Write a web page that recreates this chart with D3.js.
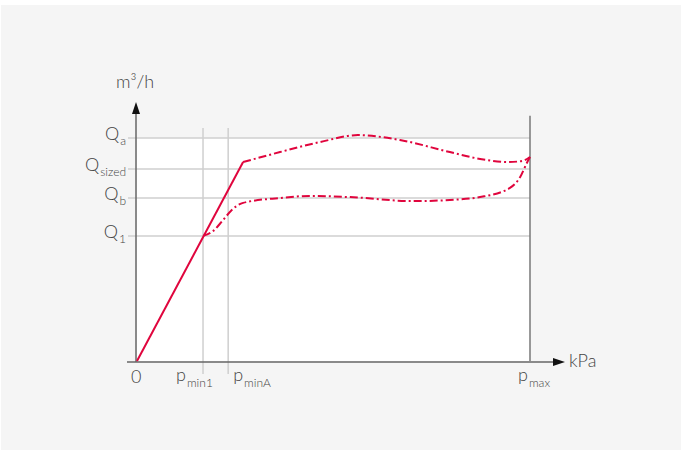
<!DOCTYPE html>
<html>
<head>
<meta charset="utf-8">
<script src="https://cdnjs.cloudflare.com/ajax/libs/d3/7.8.5/d3.min.js"></script>
<style>
  html, body { margin: 0; padding: 0; background: #fff; }
  svg { display: block; }
</style>
</head>
<body>
<div id="chart"></div>
<script>
// pressure (kPa, schematic 0..100) and flow (m3/h, schematic 0..100)
const qTickMain = ['Q', 'Q', 'Q', 'Q'];
const qTickSubs = ['a', 'sized', 'b', '1'];
const qTickValues = [100, 86.1, 73.1, 56.1];

const pTickMain = ['p', 'p', 'p'];
const pTickSubs = ['min1', 'minA', 'max'];
const pTickValues = [16.8, 23.2, 100];

// solid rise from origin to the sized point
const riseP = [0, 27.0];
const riseQ = [0, 89.2];

// upper curve (Qa)
const upperP = [27.0, 36.4, 46.6, 56.2, 66.9, 79.6, 87.3, 94.4, 98.0, 100];
const upperQ = [89.2, 93.7, 98.2, 101.3, 99.1, 93.7, 90.6, 89.2, 89.7, 91.5];

// lower curve (Qb)
const lowerP = [16.8, 19.3, 21.9, 24.0, 27.0, 36.4, 44.0, 54.2, 70.2, 79.6, 87.3, 94.9, 97.5, 99.2, 100];
const lowerQ = [56.1, 58.2, 63.2, 67.5, 70.9, 73.1, 74.0, 73.5, 71.7, 72.2, 73.5, 77.6, 82.5, 88.8, 91.5];

const W = 681, H = 451;
const red = '#e0053d';
const textColor = '#444';
const font = "Lato, 'Open Sans', sans-serif";

const svg = d3.select('#chart').append('svg')
  .attr('width', W)
  .attr('height', H);

// grey panel
svg.append('rect')
  .attr('x', 1).attr('y', 5)
  .attr('width', W - 1).attr('height', 445)
  .attr('fill', '#f5f5f5');

const x = d3.scaleLinear().domain([0, 100]).range([137, 530]);
const y = d3.scaleLinear().domain([0, 100]).range([361, 138]);

// white plot area
svg.append('rect')
  .attr('x', x(0)).attr('y', y(100))
  .attr('width', x(100) - x(0)).attr('height', y(0) - y(100))
  .attr('fill', '#fff');

// horizontal grid
svg.append('g')
  .selectAll('line')
  .data(qTickValues)
  .join('line')
  .attr('x1', x(0) - 9).attr('x2', x(100))
  .attr('y1', d => y(d)).attr('y2', d => y(d))
  .attr('stroke', '#cfcfcf')
  .attr('stroke-width', 1.5);

// vertical grid (pmin1, pminA)
svg.append('g')
  .selectAll('line')
  .data(pTickValues.slice(0, 2))
  .join('line')
  .attr('x1', d => x(d)).attr('x2', d => x(d))
  .attr('y1', y(104.5)).attr('y2', y(0) + 13)
  .attr('stroke', '#cfcfcf')
  .attr('stroke-width', 1.5);

// pmax line
svg.append('line')
  .attr('x1', x(100)).attr('x2', x(100))
  .attr('y1', y(110)).attr('y2', y(0))
  .attr('stroke', '#777')
  .attr('stroke-width', 1.5);

// axes
svg.append('line')
  .attr('x1', x(0) - 10).attr('x2', 556)
  .attr('y1', y(0) + 1).attr('y2', y(0) + 1)
  .attr('stroke', '#666').attr('stroke-width', 1.5);
svg.append('path')
  .attr('d', `M565,${y(0) + 1} L553,${y(0) - 3} L553,${y(0) + 5} Z`)
  .attr('fill', '#111');

svg.append('line')
  .attr('x1', x(0) - 1).attr('x2', x(0) - 1)
  .attr('y1', y(0) + 1).attr('y2', 110)
  .attr('stroke', '#666').attr('stroke-width', 1.5);
svg.append('path')
  .attr('d', `M${x(0) - 1},102 L${x(0) - 5},114 L${x(0) + 3},114 Z`)
  .attr('fill', '#111');

// curves
const line = d3.line()
  .x(d => x(d[0]))
  .y(d => y(d[1]))
  .curve(d3.curveMonotoneX);

svg.append('path')
  .datum(riseP.map((p, i) => [p, riseQ[i]]))
  .attr('d', d3.line().x(d => x(d[0])).y(d => y(d[1])))
  .attr('fill', 'none')
  .attr('stroke', red)
  .attr('stroke-width', 2);

[[upperP, upperQ], [lowerP, lowerQ]].forEach(([ps, qs]) => {
  svg.append('path')
    .datum(ps.map((p, i) => [p, qs[i]]))
    .attr('d', line)
    .attr('fill', 'none')
    .attr('stroke', red)
    .attr('stroke-width', 2)
    .attr('stroke-dasharray', '8,3,2,3');
});

// y labels
const qLabels = svg.append('g')
  .attr('font-family', font)
  .attr('font-weight', 300)
  .attr('fill', textColor);
qTickValues.forEach((v, i) => {
  const t = qLabels.append('text')
    .attr('x', 126)
    .attr('y', y(v) + 2)
    .attr('text-anchor', 'end')
    .attr('font-size', 18);
  t.append('tspan').text(qTickMain[i]);
  t.append('tspan').text(qTickSubs[i])
    .attr('font-size', 12)
    .attr('dx', 1)
    .attr('dy', 5);
});

// x labels
const pOffsets = [-27, 5, -12];
const pLabels = svg.append('g')
  .attr('font-family', font)
  .attr('font-weight', 300)
  .attr('fill', textColor);
pTickValues.forEach((v, i) => {
  const t = pLabels.append('text')
    .attr('x', x(v) + pOffsets[i])
    .attr('y', 381)
    .attr('font-size', 18);
  t.append('tspan').text(pTickMain[i]);
  t.append('tspan').text(pTickSubs[i])
    .attr('font-size', 12)
    .attr('dx', 1)
    .attr('dy', 6);
});

pLabels.append('text')
  .attr('x', x(0) - 6)
  .attr('y', 383)
  .attr('font-size', 18)
  .text('0');

// axis titles
svg.append('text')
  .attr('x', 116).attr('y', 88)
  .attr('font-family', font).attr('font-weight', 300)
  .attr('font-size', 18).attr('fill', textColor)
  .text('m³/h');

svg.append('text')
  .attr('x', 569).attr('y', 367)
  .attr('font-family', font).attr('font-weight', 300)
  .attr('font-size', 18).attr('fill', textColor)
  .text('kPa');
</script>
</body>
</html>
